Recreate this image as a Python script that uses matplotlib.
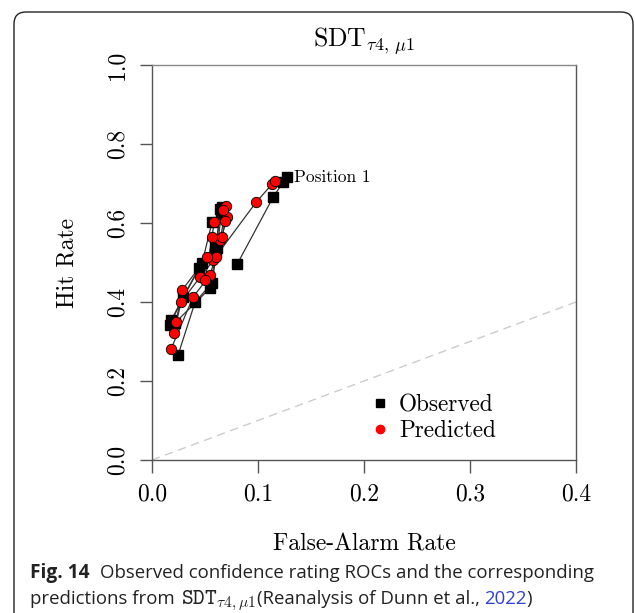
import matplotlib
matplotlib.use("Agg")
import matplotlib.pyplot as plt
from matplotlib.lines import Line2D
from matplotlib.patches import FancyBboxPatch
from matplotlib.transforms import IdentityTransform

plt.rcParams['mathtext.fontset'] = 'cm'
plt.rcParams['font.family'] = ['cmr10']
plt.rcParams['axes.formatter.use_mathtext'] = True

# observed ROC points, one list per curve (false-alarm rate, hit rate)
obs_fa = [
    [0.0804, 0.1144, 0.1239, 0.1277],
    [0.0246, 0.0407, 0.0567, 0.0615, 0.0662],
    [0.0170, 0.0293, 0.0444, 0.0596, 0.0652],
    [0.0180, 0.0473, 0.0567],
    [0.0220, 0.0548, 0.0605, 0.0640],
]
obs_hit = [
    [0.496, 0.666, 0.704, 0.716],
    [0.266, 0.400, 0.448, 0.537, 0.641],
    [0.342, 0.413, 0.486, 0.542, 0.625],
    [0.354, 0.499, 0.603],
    [0.348, 0.435, 0.527, 0.635],
]

# predicted ROC points
pred_fa = [
    [0.0577, 0.0983, 0.1135, 0.1163],
    [0.0180, 0.0388, 0.0548, 0.0643, 0.0700],
    [0.0208, 0.0274, 0.0454, 0.0605, 0.0709],
    [0.0227, 0.0284, 0.0520, 0.0662, 0.0690],
    [0.0501, 0.0567, 0.0586, 0.0671],
]
pred_hit = [
    [0.506, 0.653, 0.699, 0.706],
    [0.281, 0.413, 0.468, 0.557, 0.643],
    [0.322, 0.400, 0.463, 0.514, 0.615],
    [0.349, 0.430, 0.514, 0.565, 0.605],
    [0.456, 0.565, 0.603, 0.633],
]

xticks = [0.0, 0.1, 0.2, 0.3, 0.4]
yticks = [0.0, 0.2, 0.4, 0.6, 0.8, 1.0]

W, H = 635, 613
fig = plt.figure(figsize=(W / 100, H / 100), dpi=100)

# rounded frame around the figure panel
frame = FancyBboxPatch((14, -30), 619, H - 12 + 30,
                       boxstyle="round,pad=0,rounding_size=12",
                       transform=IdentityTransform(), fc='none', ec='#222222', lw=1.0)
fig.patches.append(frame)

ax = fig.add_axes([152 / W, 1 - 460 / H, 424 / W, 395 / H])
ax.set_xlim(0, 0.4)
ax.set_ylim(0, 1.0)

# chance line
ax.plot([0, 1], [0, 1], ls=(0, (6, 4)), color='#cccccc', lw=1.0, zorder=1)

for fa, hit in zip(obs_fa, obs_hit):
    ax.plot(fa, hit, color='#333333', lw=0.9, zorder=2)
for fa, hit in zip(pred_fa, pred_hit):
    ax.plot(fa, hit, color='#333333', lw=0.9, zorder=2)
for fa, hit in zip(obs_fa, obs_hit):
    ax.plot(fa, hit, 's', color='black', ms=6.8, zorder=3)
for fa, hit in zip(pred_fa, pred_hit):
    ax.plot(fa, hit, 'o', mfc='red', mec='black', mew=0.6, ms=7.5, zorder=4)

ax.text(obs_fa[0][-1] + 0.006, obs_hit[0][-1], 'Position 1', fontsize=12.5,
        ha='left', va='center')

for s in ax.spines.values():
    s.set_color('#555555')
    s.set_linewidth(1.0)
ax.spines['top'].set_color('#888888')
ax.set_xticks(xticks)
ax.set_yticks(yticks)
ax.set_xticklabels([f'{v:.1f}' for v in xticks])
ax.set_yticklabels([f'{v:.1f}' for v in yticks], rotation=90, va='center')
ax.tick_params(direction='out', length=9, width=1.0, color='#555555',
               labelsize=17, pad=8)
ax.set_xlabel('False-Alarm Rate', fontsize=17, labelpad=20)
ax.set_ylabel('Hit Rate', fontsize=17, labelpad=20)
ax.set_title(r'$\mathrm{SDT}_{\tau 4,\,\mu 1}$', fontsize=18.5, pad=13)

handles = [Line2D([], [], marker='s', color='black', ls='none', ms=6),
           Line2D([], [], marker='o', color='red', ls='none', ms=6)]
ax.legend(handles, ['Observed', 'Predicted'], loc='upper left',
          bbox_to_anchor=(0.50, 0.19), frameon=False, fontsize=16.8,
          handlelength=0.6, handletextpad=0.5, labelspacing=0.15,
          borderaxespad=0)

# caption, pieces chained left to right
renderer = fig.canvas.get_renderer()


def chain(parts, x0, y):
    x = x0
    for txt, kw, gap in parts:
        t = fig.text((x + gap) / W, 1 - y / H, txt, va='baseline', ha='left', **kw)
        bb = t.get_window_extent(renderer)
        x = bb.x1


cap = dict(family='Open Sans', fontsize=13.4, color='#222222')
chain([('Fig. 14', dict(cap, weight='bold', fontsize=13.8), 0),
       ('Observed confidence rating ROCs and the corresponding', cap, 10)], 30, 578)
chain([('predictions from', cap, 0),
       (r'$\mathtt{SDT}_{\tau 4,\mu 1}$', dict(fontsize=16, color='#222222'), 6),
       ('(Reanalysis of Dunn et al.,', cap, 1),
       ('2022', dict(cap, color='#2b3fd6'), 4),
       (')', cap, 0)], 30, 604)

fig.savefig('out.png', dpi=100)
